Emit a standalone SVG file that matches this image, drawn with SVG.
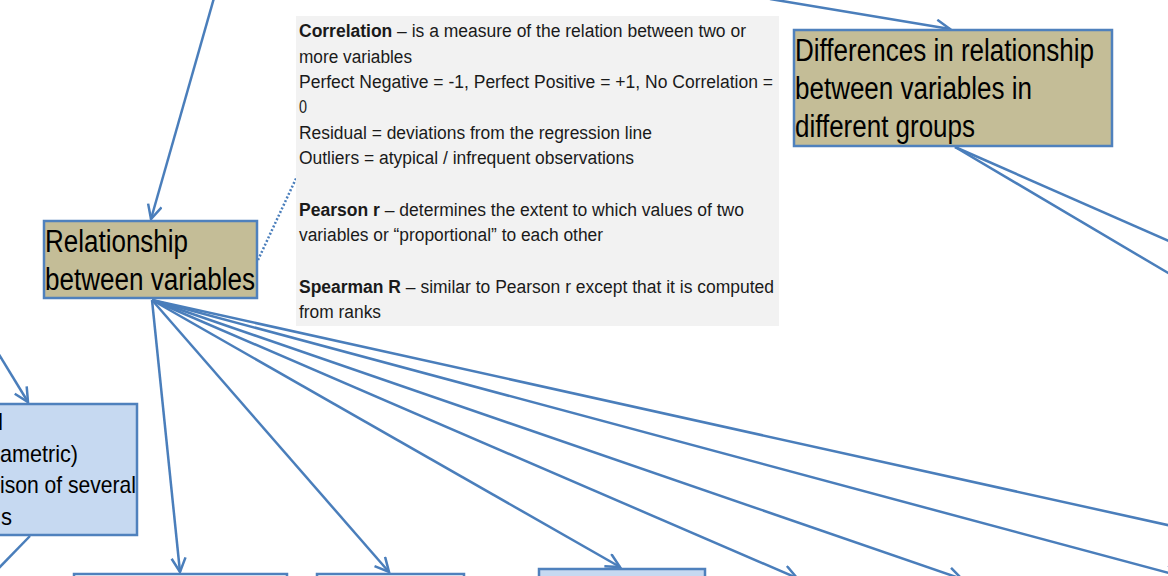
<svg xmlns="http://www.w3.org/2000/svg" width="1168" height="576" viewBox="0 0 1168 576">
<defs>
<style>
.box{stroke:#4f81bd;stroke-width:2.5}
.tan{fill:#c4bd97}
.lb{fill:#c6d9f1}
.wh{fill:#ffffff}
.conn{stroke:#4a7ebb;stroke-width:2.5;fill:none}
.big{font-family:"Liberation Sans Narrow","Liberation Sans",Arial,sans-serif;font-size:31px;fill:#000}
.mid{font-family:"Liberation Sans Narrow","Liberation Sans",Arial,sans-serif;font-size:24px;fill:#000}
.sm{font-family:"Liberation Sans Narrow","Liberation Sans",Arial,sans-serif;font-size:18px;fill:#1a1a1a}
</style>
<marker id="arr" markerUnits="userSpaceOnUse" markerWidth="20" markerHeight="20" refX="15" refY="8" orient="auto">
<path d="M1,1 L15,8 L1,15" fill="none" stroke="#4a7ebb" stroke-width="2.5"/>
</marker>
</defs>
<rect width="1168" height="576" fill="#ffffff"/>

<g id="connectors">
<line class="conn" x1="214" y1="-2" x2="151" y2="219" marker-end="url(#arr)"/>
<line class="conn" x1="770" y1="-1" x2="950" y2="29" marker-end="url(#arr)"/>
<line class="conn" x1="955" y1="147" x2="1180" y2="246"/>
<line class="conn" x1="955" y1="147" x2="1180" y2="280"/>
<line class="conn" x1="-5" y1="348" x2="28" y2="402" marker-end="url(#arr)"/>
<line class="conn" x1="30" y1="536" x2="-5" y2="572"/>
<line class="conn" x1="152" y1="300" x2="180" y2="572" marker-end="url(#arr)"/>
<line class="conn" x1="152" y1="300" x2="389" y2="572" marker-end="url(#arr)"/>
<line class="conn" x1="152" y1="300" x2="620" y2="567" marker-end="url(#arr)"/>
<line class="conn" x1="152" y1="300" x2="797" y2="578" marker-end="url(#arr)"/>
<line class="conn" x1="152" y1="300" x2="962" y2="579" marker-end="url(#arr)"/>
<line class="conn" x1="152" y1="300" x2="1180" y2="576" marker-end="url(#arr)"/>
<line class="conn" x1="152" y1="300" x2="1190" y2="530"/>
<path class="conn" d="M258,260 L300,170" stroke-dasharray="2,2"/>
</g>

<g id="notes">
<rect x="296" y="16" width="483" height="310" fill="#f2f2f2"/>
<text class="sm" x="299" y="37" textLength="447" lengthAdjust="spacingAndGlyphs"><tspan font-weight="bold">Correlation</tspan> – is a measure of the relation between two or</text>
<text class="sm" x="299" y="63" textLength="113" lengthAdjust="spacingAndGlyphs">more variables</text>
<text class="sm" x="299" y="88" textLength="474" lengthAdjust="spacingAndGlyphs">Perfect Negative = -1, Perfect Positive = +1, No Correlation =</text>
<text class="sm" x="299" y="113" textLength="8" lengthAdjust="spacingAndGlyphs">0</text>
<text class="sm" x="299" y="139" textLength="353" lengthAdjust="spacingAndGlyphs">Residual = deviations from the regression line</text>
<text class="sm" x="299" y="164" textLength="335" lengthAdjust="spacingAndGlyphs">Outliers = atypical / infrequent observations</text>
<text class="sm" x="299" y="216" textLength="445" lengthAdjust="spacingAndGlyphs"><tspan font-weight="bold">Pearson r</tspan> – determines the extent to which values of two</text>
<text class="sm" x="299" y="241" textLength="304" lengthAdjust="spacingAndGlyphs">variables or “proportional”  to each other</text>
<text class="sm" x="299" y="293" textLength="475" lengthAdjust="spacingAndGlyphs"><tspan font-weight="bold">Spearman R</tspan> – similar to Pearson r except that it is computed</text>
<text class="sm" x="299" y="318" textLength="82" lengthAdjust="spacingAndGlyphs">from ranks</text>
</g>

<g id="relationship">
<rect class="box tan" x="44" y="221" width="213" height="77"/>
<text class="big" x="45" y="252" textLength="143" lengthAdjust="spacingAndGlyphs">Relationship</text>
<text class="big" x="45" y="290" textLength="210" lengthAdjust="spacingAndGlyphs">between variables</text>
</g>

<g id="differences">
<rect class="box tan" x="794" y="30" width="318" height="116"/>
<text class="big" x="795" y="61" textLength="299" lengthAdjust="spacingAndGlyphs">Differences in relationship</text>
<text class="big" x="795" y="99" textLength="237" lengthAdjust="spacingAndGlyphs">between variables in</text>
<text class="big" x="795" y="137" textLength="180" lengthAdjust="spacingAndGlyphs">different groups</text>
</g>

<g id="left-box">
<rect class="box lb" x="-10" y="404" width="147" height="131"/>
<text class="mid" x="3" y="430" text-anchor="end">l</text>
<text class="mid" x="0" y="462" textLength="78" lengthAdjust="spacingAndGlyphs">ametric)</text>
<text class="mid" x="0" y="493" textLength="136" lengthAdjust="spacingAndGlyphs">ison of several</text>
<text class="mid" x="1" y="525" textLength="11" lengthAdjust="spacingAndGlyphs">s</text>
</g>

<g id="bottom-a">
<rect class="box wh" x="74" y="574" width="213" height="30"/>
</g>
<g id="bottom-b">
<rect class="box wh" x="317" y="574" width="147" height="30"/>
</g>
<g id="bottom-c">
<rect class="box lb" x="539" y="569" width="166" height="30"/>
</g>
</svg>
